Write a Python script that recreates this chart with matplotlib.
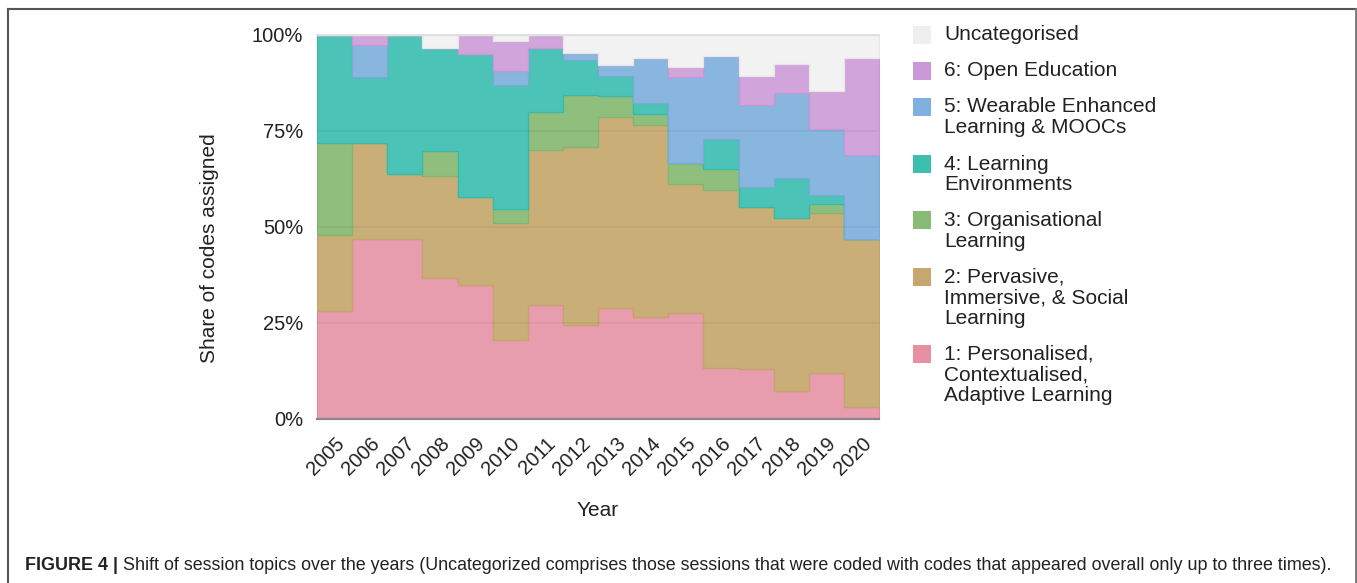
import numpy as np
import matplotlib
matplotlib.use("Agg")
import matplotlib.pyplot as plt
from matplotlib.patches import Rectangle
from matplotlib.lines import Line2D

plt.rcParams['font.family'] = ['Liberation Sans', 'DejaVu Sans']

years = [str(y) for y in range(2005, 2021)]
# shares (%) per category and year
cat1 = [28.0, 47.0, 47.0, 36.6, 34.9, 20.7, 29.7, 24.5, 28.8, 26.6, 27.5, 13.4, 13.0, 7.4, 11.9, 3.0]
cat2 = [20.0, 25.0, 16.8, 26.8, 23.0, 30.3, 40.3, 46.4, 49.9, 50.0, 33.6, 46.2, 42.3, 44.9, 41.7, 43.8]
cat3 = [24.0, 0.0, 0.0, 6.4, 0.0, 3.7, 9.9, 13.5, 5.5, 2.7, 5.5, 5.5, 0.0, 0.0, 2.4, 0.0]
cat4 = [28.0, 17.1, 36.2, 26.9, 37.1, 32.3, 16.6, 9.1, 5.2, 2.9, 0.0, 7.8, 5.0, 10.5, 2.3, 0.0]
cat5 = [0.0, 8.3, 0.0, 0.0, 0.0, 3.6, 0.0, 1.7, 2.8, 11.9, 22.5, 21.6, 21.5, 22.2, 17.2, 21.9]
cat6 = [0.0, 2.6, 0.0, 0.0, 5.0, 7.8, 3.5, 0.0, 0.0, 0.0, 2.6, 0.0, 7.6, 7.4, 9.9, 25.2]
uncat = [0.0, 0.0, 0.0, 3.3, 0.0, 1.6, 0.0, 4.8, 7.8, 5.9, 8.3, 5.5, 10.6, 7.6, 14.6, 6.1]

series = [cat1, cat2, cat3, cat4, cat5, cat6, uncat]
labels = ["1: Personalised,\nContextualised,\nAdaptive Learning",
          "2: Pervasive,\nImmersive, & Social\nLearning",
          "3: Organisational\nLearning",
          "4: Learning\nEnvironments",
          "5: Wearable Enhanced\nLearning & MOOCs",
          "6: Open Education",
          "Uncategorised"]
fills = ["#e79dad", "#c9ae78", "#8fbe7d", "#4cc3b7", "#88b6df", "#d2a4dc", "#f2f2f2"]
edges = ["#e08a9c", "#c4a46a", "#83b570", "#35bba9", "#7aaad8", "#c898d4", "#e6e6e6"]
legend_cols = ["#e690a2", "#c8a670", "#88bb74", "#3dbfb0", "#7fb0df", "#cc98d8", "#efefef"]

W, H = 1357, 583
fig = plt.figure(figsize=(W / 100, H / 100), dpi=100)
ax = fig.add_axes([317 / W, 1 - 419 / H, (879 - 317) / W, (419 - 35) / H])

n = len(years)
x_edges = np.arange(n + 1) - 0.5
bottom = np.zeros(n)
for vals, fc, ec in zip(series, fills, edges):
    v = np.array(vals)
    top = bottom + v
    lo = np.append(bottom, bottom[-1])
    hi = np.append(top, top[-1])
    ax.fill_between(x_edges, lo, hi, step='post', facecolor=fc, edgecolor=ec,
                    linewidth=0.9, zorder=2)
    bottom = top

ax.set_xlim(-0.5, n - 0.5)
ax.set_ylim(0, 100)
ax.set_yticks([0, 25, 50, 75, 100])
ax.set_yticklabels(["0%", "25%", "50%", "75%", "100%"])
ax.set_xticks(np.arange(n))
ax.set_xticklabels(years, rotation=45, ha='right', va='top', rotation_mode='anchor')
ax.tick_params(axis='both', length=0, labelsize=14.5, colors='#222222')
ax.tick_params(axis='y', pad=10)
ax.tick_params(axis='x', pad=11)
for s in ['left', 'right']:
    ax.spines[s].set_visible(False)
ax.spines['top'].set_color('#dddddd')
ax.spines['top'].set_linewidth(1.2)
ax.spines['bottom'].set_color('#888888')
ax.spines['bottom'].set_linewidth(1.6)
ax.spines['bottom'].set_zorder(5)
for yv in [25, 50, 75]:
    ax.axhline(yv, color='#000000', alpha=0.05, linewidth=1.2, zorder=3)

def fx(px):
    return px / W

def fy(py):
    return 1 - py / H

fig.text(fx(598), fy(511), "Year", ha='center', va='center', fontsize=15, color='#222222')
fig.text(fx(209), fy(248), "Share of codes assigned", ha='center', va='center',
         rotation=90, fontsize=15, color='#222222')

# legend (top to bottom)
entry_y = [35, 71, 107, 164, 220.5, 277, 354]
order = list(range(len(series)))[::-1]
for yy, idx in zip(entry_y, order):
    fig.patches.append(Rectangle((fx(913), fy(yy + 9)), 18 / W, 18 / H,
                                 transform=fig.transFigure, facecolor=legend_cols[idx],
                                 edgecolor='none'))
    for k, line in enumerate(labels[idx].split("\n")):
        fig.text(fx(944), fy(yy + k * 20.7), line, ha='left', va='center',
                 fontsize=15, color='#222222')

# frame
fig.add_artist(Line2D([fx(8), fx(8)], [fy(8.5), -0.05], transform=fig.transFigure,
                      color='#555555', linewidth=1.5))
fig.add_artist(Line2D([fx(8), fx(1355.5)], [fy(8.5), fy(8.5)], transform=fig.transFigure,
                      color='#555555', linewidth=1.5))
fig.add_artist(Line2D([fx(1355.5), fx(1355.5)], [fy(8.5), -0.05], transform=fig.transFigure,
                      color='#777777', linewidth=2.0))

# caption
t1 = fig.text(fx(25), fy(566), "FIGURE 4 |", ha='left', va='center', fontsize=12.9,
              fontweight='bold', color='#222222')
fig.canvas.draw()
bb = t1.get_window_extent(renderer=fig.canvas.get_renderer())
fig.text(bb.x1 / W + 5 / W, fy(566),
         "Shift of session topics over the years (Uncategorized comprises those sessions that were coded with codes that appeared overall only up to three times).",
         ha='left', va='center', fontsize=12.9, color='#222222')

fig.savefig("out.png", dpi=100)
